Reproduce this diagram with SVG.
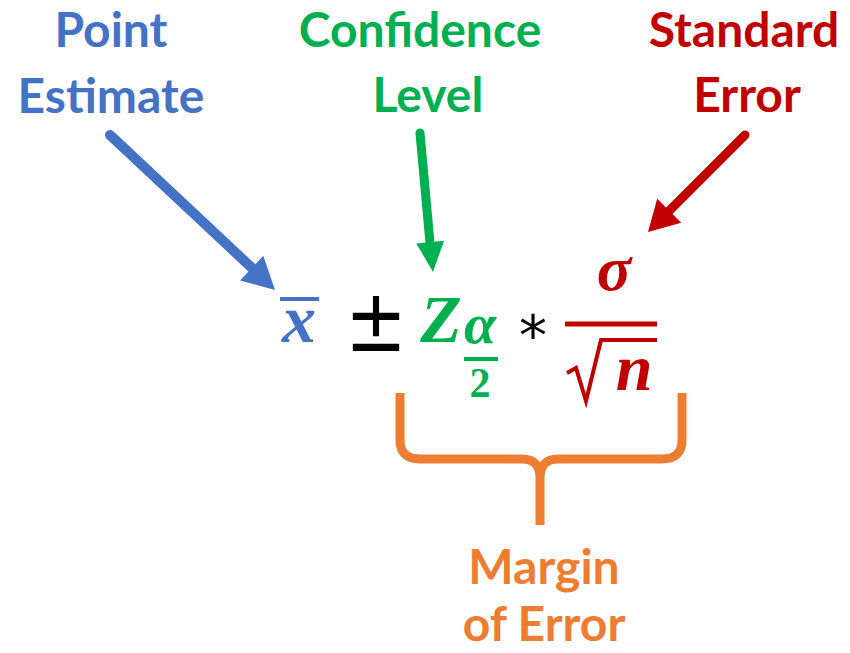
<svg xmlns="http://www.w3.org/2000/svg" width="850" height="653" viewBox="0 0 850 653">
<style>
.lbl{font-family:Lato,"Open Sans","Liberation Sans",sans-serif;font-weight:bold;font-size:48px;text-anchor:middle}
.m{font-family:"Liberation Serif","DejaVu Serif",serif;font-weight:bold;font-style:italic;text-anchor:middle}
.blue{fill:#4472C4}.green{fill:#00B050}.red{fill:#C00000}.orange{fill:#ED7D31}
</style>
<rect width="850" height="653" fill="#ffffff"/>
<g id="label-point-estimate" class="lbl blue">
<text x="111" y="47">Point</text>
<text x="111" y="113">Estimate</text>
</g>
<g id="label-confidence-level" class="lbl green">
<text x="420" y="47">Confidence</text>
<text x="428" y="112">Level</text>
</g>
<g id="label-standard-error" class="lbl red">
<text x="744" y="47">Standard</text>
<text x="747" y="112">Error</text>
</g>
<g id="label-margin-of-error" class="lbl orange">
<text x="544" y="584">Margin</text>
<text x="544" y="641">of Error</text>
</g>
<g id="formula">
<g id="xbar">
<text class="m blue" x="299" y="342" font-size="68">x</text>
<line x1="280" y1="299" x2="319" y2="299" stroke="#4472C4" stroke-width="4"/>
</g>
<text id="plusminus" x="376" y="350" font-family="'DejaVu Sans',sans-serif" font-size="74" text-anchor="middle" fill="#000" transform="translate(0,-58) scale(1,1.17)">±</text>
<g id="z-alpha-2">
<text class="m green" x="441" y="342" font-size="68">Z</text>
<text class="m green" x="480" y="343" font-size="58">α</text>
<line x1="464" y1="359" x2="498" y2="359" stroke="#00B050" stroke-width="4"/>
<text x="480" y="397" font-family="'Liberation Serif',serif" font-weight="bold" font-size="42" text-anchor="middle" fill="#00B050">2</text>
</g>
<text id="times" x="533" y="355" font-family="'DejaVu Sans',sans-serif" font-size="56" text-anchor="middle" fill="#000">*</text>
<g id="sigma-over-root-n">
<text class="m red" x="614" y="290" font-size="64">σ</text>
<line x1="565" y1="324" x2="657" y2="324" stroke="#C00000" stroke-width="5"/>
<path d="M567,373 L576,368 L586,401 L601,340 H657" fill="none" stroke="#C00000" stroke-width="4" stroke-linejoin="miter"/>
<text class="m red" x="634" y="390" font-size="66">n</text>
</g>
</g>
<g id="brace">
<path d="M400,393 V440 Q400,459 420,459 H522 Q540,459 540,478 V525 M682,393 V440 Q682,459 662,459 H558 Q540,459 540,478" fill="none" stroke="#ED7D31" stroke-width="9"/>
</g>
<g id="connectors">
<line x1="110" y1="135" x2="252" y2="268" stroke="#4472C4" stroke-width="10" stroke-linecap="round"/>
<polygon points="275,290 240.1,280.5 263.3,255.7" fill="#4472C4"/>
<line x1="420" y1="133" x2="430" y2="243" stroke="#00B050" stroke-width="9" stroke-linecap="round"/>
<polygon points="433,272 416.3,243.4 444.1,240.8" fill="#00B050"/>
<line x1="745" y1="135" x2="669" y2="211" stroke="#C00000" stroke-width="9" stroke-linecap="round"/>
<polygon points="648,232 657.2,198.8 681.2,222.8" fill="#C00000"/>
</g>
</svg>
